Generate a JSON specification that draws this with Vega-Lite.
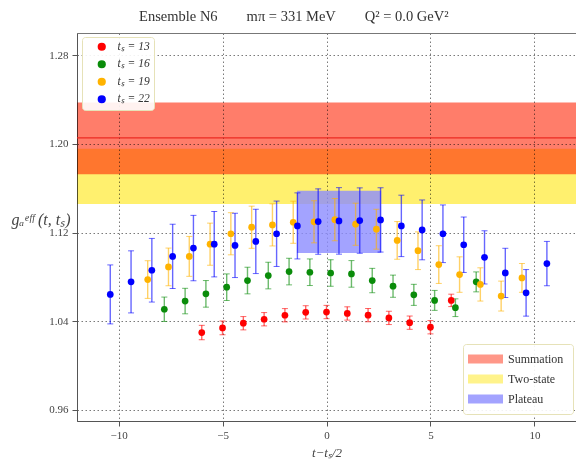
{
  "$schema": "https://vega.github.io/schema/vega-lite/v6.json",
  "width": 499,
  "height": 388,
  "autosize": {"type": "none"},
  "padding": {"left": 77, "top": 33, "right": 0, "bottom": 38},
  "background": "white",
  "title": {
    "text": "Ensemble N6\u2003\u2003mπ = 331 MeV\u2003\u2003Q² = 0.0 GeV²",
    "anchor": "middle",
    "frame": "bounds",
    "offset": 9,
    "font": "Liberation Serif",
    "fontSize": 14.5,
    "fontWeight": "normal",
    "color": "#333333"
  },
  "config": {
    "view": {"stroke": "#777777", "strokeWidth": 1},
    "axis": {
      "grid": true,
      "gridColor": "#7a7a7a",
      "gridDash": [1.5, 2.5],
      "gridWidth": 1,
      "domainColor": "#555555",
      "tickColor": "#555555",
      "tickSize": 5,
      "labelFont": "Liberation Serif",
      "labelFontSize": 11,
      "labelColor": "#444444",
      "titleFont": "Liberation Serif",
      "titleFontWeight": "normal",
      "titleFontStyle": "italic",
      "titleColor": "#444444"
    },
    "legend": {
      "labelFont": "Liberation Serif",
      "labelFontSize": 11,
      "labelColor": "#333333"
    }
  },
  "datasets": {
    "pts": [
      {"s": "tₛ = 13", "x": -6, "y": 1.0298, "e": 0.0065},
      {"s": "tₛ = 13", "x": -5, "y": 1.034, "e": 0.0062},
      {"s": "tₛ = 13", "x": -4, "y": 1.0382, "e": 0.006},
      {"s": "tₛ = 13", "x": -3, "y": 1.0418, "e": 0.006},
      {"s": "tₛ = 13", "x": -2, "y": 1.0454, "e": 0.006},
      {"s": "tₛ = 13", "x": -1, "y": 1.048, "e": 0.006},
      {"s": "tₛ = 13", "x": 0, "y": 1.0483, "e": 0.006},
      {"s": "tₛ = 13", "x": 1, "y": 1.047, "e": 0.006},
      {"s": "tₛ = 13", "x": 2, "y": 1.0455, "e": 0.006},
      {"s": "tₛ = 13", "x": 3, "y": 1.043, "e": 0.006},
      {"s": "tₛ = 13", "x": 4, "y": 1.0387, "e": 0.006},
      {"s": "tₛ = 13", "x": 5, "y": 1.0346, "e": 0.006},
      {"s": "tₛ = 13", "x": 6, "y": 1.0588, "e": 0.0056},
      {"s": "tₛ = 16", "x": -7.8, "y": 1.0508, "e": 0.011},
      {"s": "tₛ = 16", "x": -6.8, "y": 1.0582, "e": 0.0115},
      {"s": "tₛ = 16", "x": -5.8, "y": 1.0647, "e": 0.012},
      {"s": "tₛ = 16", "x": -4.8, "y": 1.0707, "e": 0.012},
      {"s": "tₛ = 16", "x": -3.8, "y": 1.0767, "e": 0.012},
      {"s": "tₛ = 16", "x": -2.8, "y": 1.0812, "e": 0.012},
      {"s": "tₛ = 16", "x": -1.8, "y": 1.0848, "e": 0.012},
      {"s": "tₛ = 16", "x": -0.8, "y": 1.0842, "e": 0.012},
      {"s": "tₛ = 16", "x": 0.2, "y": 1.0835, "e": 0.012},
      {"s": "tₛ = 16", "x": 1.2, "y": 1.0827, "e": 0.012},
      {"s": "tₛ = 16", "x": 2.2, "y": 1.0767, "e": 0.011},
      {"s": "tₛ = 16", "x": 3.2, "y": 1.0716, "e": 0.01},
      {"s": "tₛ = 16", "x": 4.2, "y": 1.0638, "e": 0.0095},
      {"s": "tₛ = 16", "x": 5.2, "y": 1.0588, "e": 0.009},
      {"s": "tₛ = 16", "x": 6.2, "y": 1.0522, "e": 0.008},
      {"s": "tₛ = 16", "x": 7.2, "y": 1.0755, "e": 0.009},
      {"s": "tₛ = 19", "x": -8.6, "y": 1.0776, "e": 0.017},
      {"s": "tₛ = 19", "x": -7.6, "y": 1.089, "e": 0.017},
      {"s": "tₛ = 19", "x": -6.6, "y": 1.0985, "e": 0.018},
      {"s": "tₛ = 19", "x": -5.6, "y": 1.1095, "e": 0.019},
      {"s": "tₛ = 19", "x": -4.6, "y": 1.1189, "e": 0.019},
      {"s": "tₛ = 19", "x": -3.6, "y": 1.1248, "e": 0.019},
      {"s": "tₛ = 19", "x": -2.6, "y": 1.1269, "e": 0.019},
      {"s": "tₛ = 19", "x": -1.6, "y": 1.1293, "e": 0.019},
      {"s": "tₛ = 19", "x": -0.6, "y": 1.1297, "e": 0.019},
      {"s": "tₛ = 19", "x": 0.4, "y": 1.1316, "e": 0.019},
      {"s": "tₛ = 19", "x": 1.4, "y": 1.1275, "e": 0.019},
      {"s": "tₛ = 19", "x": 2.4, "y": 1.123, "e": 0.018},
      {"s": "tₛ = 19", "x": 3.4, "y": 1.1129, "e": 0.017},
      {"s": "tₛ = 19", "x": 4.4, "y": 1.1036, "e": 0.017},
      {"s": "tₛ = 19", "x": 5.4, "y": 1.0911, "e": 0.017},
      {"s": "tₛ = 19", "x": 6.4, "y": 1.0821, "e": 0.016},
      {"s": "tₛ = 19", "x": 7.4, "y": 1.0732, "e": 0.015},
      {"s": "tₛ = 19", "x": 8.4, "y": 1.0627, "e": 0.0135},
      {"s": "tₛ = 19", "x": 9.4, "y": 1.0791, "e": 0.013},
      {"s": "tₛ = 22", "x": -10.4, "y": 1.0642, "e": 0.0266},
      {"s": "tₛ = 22", "x": -9.4, "y": 1.0755, "e": 0.028},
      {"s": "tₛ = 22", "x": -8.4, "y": 1.086, "e": 0.0287},
      {"s": "tₛ = 22", "x": -7.4, "y": 1.0985, "e": 0.029},
      {"s": "tₛ = 22", "x": -6.4, "y": 1.106, "e": 0.0295},
      {"s": "tₛ = 22", "x": -5.4, "y": 1.1095, "e": 0.0295},
      {"s": "tₛ = 22", "x": -4.4, "y": 1.1084, "e": 0.029},
      {"s": "tₛ = 22", "x": -3.4, "y": 1.112, "e": 0.029},
      {"s": "tₛ = 22", "x": -2.4, "y": 1.1189, "e": 0.0295},
      {"s": "tₛ = 22", "x": -1.4, "y": 1.126, "e": 0.0298},
      {"s": "tₛ = 22", "x": -0.4, "y": 1.1299, "e": 0.0295},
      {"s": "tₛ = 22", "x": 0.6, "y": 1.1305, "e": 0.03},
      {"s": "tₛ = 22", "x": 1.6, "y": 1.1308, "e": 0.0295},
      {"s": "tₛ = 22", "x": 2.6, "y": 1.1314, "e": 0.029},
      {"s": "tₛ = 22", "x": 3.6, "y": 1.126, "e": 0.0277},
      {"s": "tₛ = 22", "x": 4.6, "y": 1.1224, "e": 0.027},
      {"s": "tₛ = 22", "x": 5.6, "y": 1.1189, "e": 0.026},
      {"s": "tₛ = 22", "x": 6.6, "y": 1.109, "e": 0.025},
      {"s": "tₛ = 22", "x": 7.6, "y": 1.0976, "e": 0.024},
      {"s": "tₛ = 22", "x": 8.6, "y": 1.0836, "e": 0.0222},
      {"s": "tₛ = 22", "x": 9.6, "y": 1.0656, "e": 0.021},
      {"s": "tₛ = 22", "x": 10.6, "y": 1.092, "e": 0.02}
    ],
    "bands": [
      {"band": "Summation", "x1": -12, "x2": 12, "lo": 1.1726, "hi": 1.2374, "mid": 1.2054},
      {"band": "Two-state", "x1": -12, "x2": 12, "lo": 1.1457, "hi": 1.1956, "mid": 1.1706},
      {"band": "Plateau", "x1": -1.42, "x2": 2.63, "lo": 1.1015, "hi": 1.1577, "mid": 1.1296}
    ]
  },
  "layer": [
    {
      "data": {"name": "bands"},
      "transform": [{"filter": "datum.band !== 'Plateau'"}],
      "mark": {"type": "rect", "blend": "multiply"},
      "encoding": {
        "x": {"field": "x1", "type": "quantitative", "title": "t−tₛ/2", "scale": {"domain": [-12, 12], "nice": false, "zero": false},
              "axis": {"values": [-10, -5, 0, 5, 10], "titleFontSize": 13, "titlePadding": 6, "labelPadding": 3}},
        "x2": {"field": "x2"},
        "y": {"field": "lo", "type": "quantitative", "title": "gₐᵉᶠᶠ (t, tₛ)", "scale": {"domain": [0.95, 1.3], "nice": false, "zero": false},
              "axis": {"values": [0.96, 1.04, 1.12, 1.2, 1.28], "format": ".2f",
                       "titleAngle": 0, "titleAlign": "left", "titleBaseline": "middle", "titleX": -66, "titleY": 186,
                       "titleFontSize": 16, "labelPadding": 4}},
        "y2": {"field": "hi"},
        "fill": {
          "field": "band", "type": "nominal",
          "scale": {"domain": ["Summation", "Two-state", "Plateau"], "range": ["#ff7d6a", "#fff06e", "#8c8cff"]},
          "legend": {
            "title": null, "orient": "none", "legendX": 386, "legendY": 311,
            "symbolType": "M-2,-0.9H5V0.9H-2Z", "symbolSize": 100, "symbolStrokeWidth": 0,
            "rowPadding": 8, "padding": 9, "labelOffset": 24, "labelFontSize": 12,
            "fillColor": "rgba(255,255,255,0.9)", "strokeColor": "#e6e2b8", "cornerRadius": 3
          }
        }
      }
    },
    {
      "data": {"name": "bands"},
      "transform": [{"filter": "datum.band === 'Summation'"}],
      "mark": {"type": "rule", "color": "#ec2a22", "strokeWidth": 1.2},
      "encoding": {
        "x": {"field": "x1", "type": "quantitative", "title": "t−tₛ/2"},
        "x2": {"field": "x2"},
        "y": {"field": "mid", "type": "quantitative", "title": "gₐᵉᶠᶠ (t, tₛ)"}
      }
    },
    {
      "data": {"name": "bands"},
      "transform": [{"filter": "datum.band === 'Plateau'"}],
      "mark": {"type": "rect", "opacity": 0.8},
      "encoding": {
        "x": {"field": "x1", "type": "quantitative", "title": "t−tₛ/2"},
        "x2": {"field": "x2"},
        "y": {"field": "lo", "type": "quantitative", "title": "gₐᵉᶠᶠ (t, tₛ)"},
        "y2": {"field": "hi"},
        "fill": {"field": "band", "type": "nominal"}
      }
    },
    {
      "data": {"name": "pts"},
      "mark": {"type": "errorbar", "ticks": {"size": 6, "opacity": 0.6}, "rule": {"opacity": 0.6, "strokeWidth": 1.4}},
      "encoding": {
        "x": {"field": "x", "type": "quantitative", "title": "t−tₛ/2"},
        "y": {"field": "y", "type": "quantitative", "title": "gₐᵉᶠᶠ (t, tₛ)"},
        "yError": {"field": "e"},
        "color": {"field": "s", "type": "nominal"}
      }
    },
    {
      "data": {"name": "pts"},
      "mark": {"type": "point", "filled": true, "size": 45, "opacity": 1},
      "encoding": {
        "x": {"field": "x", "type": "quantitative", "title": "t−tₛ/2"},
        "y": {"field": "y", "type": "quantitative", "title": "gₐᵉᶠᶠ (t, tₛ)"},
        "color": {
          "field": "s", "type": "nominal",
          "scale": {"domain": ["tₛ = 13", "tₛ = 16", "tₛ = 19", "tₛ = 22"], "range": ["#ff0000", "#0a8c0a", "#ffb300", "#0000ff"]},
          "legend": {
            "title": null, "orient": "none", "legendX": 5, "legendY": 4,
            "symbolType": "circle", "symbolSize": 45, "symbolOffset": 10, "rowPadding": 3.5, "padding": 4, "labelOffset": 10,
            "labelFontStyle": "italic", "labelFontSize": 11.5, "symbolOpacity": 1,
            "encode": {"symbols": {"update": {"opacity": {"value": 1}, "fillOpacity": {"value": 1}}}},
            "fillColor": "rgba(255,255,255,0.9)", "strokeColor": "#e6e2b8", "cornerRadius": 3
          }
        }
      }
    }
  ]
}
